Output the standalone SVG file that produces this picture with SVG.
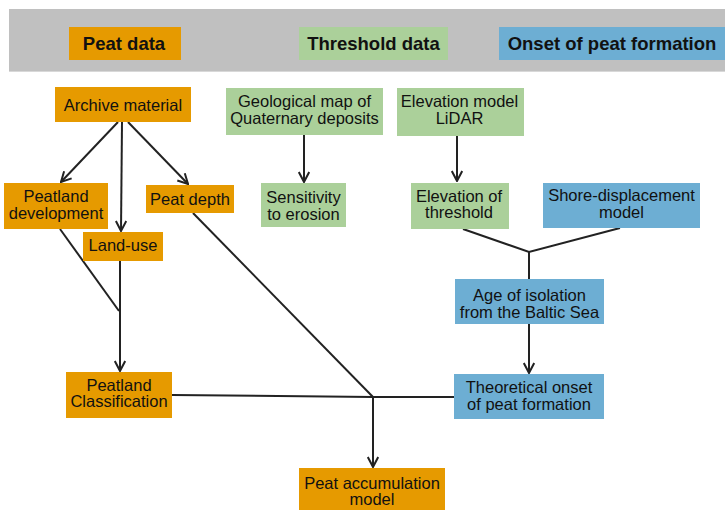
<svg xmlns="http://www.w3.org/2000/svg" width="725" height="510" viewBox="0 0 725 510">
  <defs>
    <marker id="arr" viewBox="0 0 12 12" markerWidth="12" markerHeight="12" refX="11" refY="6" orient="auto" markerUnits="userSpaceOnUse">
      <path d="M1,0.8 L11,6 L1,11.2" fill="none" stroke="#222" stroke-width="2" stroke-linejoin="miter"/>
    </marker>
  </defs>
  <style>
    .o { fill: #E69A00; }
    .g { fill: #ABD09A; }
    .b { fill: #6DAED3; }
    .t { font-family: "Liberation Sans", Arial, sans-serif; font-size: 16.5px; fill: #111; text-anchor: middle; }
    .h { font-family: "Liberation Sans", Arial, sans-serif; font-size: 18.5px; font-weight: bold; fill: #111; text-anchor: middle; }
    .c { fill: none; stroke: #222; stroke-width: 2; }
    .a { marker-end: url(#arr); }
  </style>
  <rect x="0" y="0" width="725" height="510" fill="#fff"/>

  <g id="header">
    <rect x="9" y="9" width="720" height="62" fill="#C0C0C0"/>
    <line x1="9" y1="71.5" x2="725" y2="71.5" stroke="#d8d8d8" stroke-width="1"/>
    <g id="peat-data">
      <rect class="o" x="69" y="27" width="112" height="33"/>
      <text class="h" x="124" y="50">Peat data</text>
    </g>
    <g id="threshold-data">
      <rect class="g" x="299" y="27" width="149" height="33"/>
      <text class="h" x="373.5" y="50">Threshold data</text>
    </g>
    <g id="onset-data">
      <rect class="b" x="499" y="27" width="230" height="33"/>
      <text class="h" x="612" y="50">Onset of peat formation</text>
    </g>
  </g>

  <g id="connectors">
    <path class="c a" d="M118,122 L61,182"/>
    <path class="c a" d="M122,122 L121,231"/>
    <path class="c a" d="M128,122 L188,184"/>
    <path class="c a" d="M304,135 L304,182"/>
    <path class="c a" d="M457,136 L457,181"/>
    <path class="c" d="M60,229 L119,311"/>
    <path class="c a" d="M120,261 L120,371"/>
    <path class="c" d="M463,229 L529,252 L620,228"/>
    <path class="c" d="M529,252 L529,279"/>
    <path class="c a" d="M529,324 L529,373"/>
    <path class="c" d="M172,395 L373,397 L454,397"/>
    <path class="c" d="M193,213 L373,397"/>
    <path class="c a" d="M373,397 L373,467"/>
  </g>

  <g id="archive-material">
    <rect class="o" x="55" y="87" width="136" height="35"/>
    <text class="t" x="123" y="110.5">Archive material</text>
  </g>
  <g id="geological-map">
    <rect class="g" x="226" y="88" width="157" height="47"/>
    <text class="t" x="304.5" y="107">Geological map of</text>
    <text class="t" x="304.5" y="123.5">Quaternary deposits</text>
  </g>
  <g id="elevation-model">
    <rect class="g" x="397" y="88" width="127" height="48"/>
    <text class="t" x="459.5" y="107">Elevation model</text>
    <text class="t" x="459.5" y="123.5">LiDAR</text>
  </g>
  <g id="peatland-development">
    <rect class="o" x="4" y="183" width="104" height="46"/>
    <text class="t" x="56" y="202">Peatland</text>
    <text class="t" x="56" y="218.5">development</text>
  </g>
  <g id="peat-depth">
    <rect class="o" x="146" y="185" width="88" height="28"/>
    <text class="t" x="190" y="204.5">Peat depth</text>
  </g>
  <g id="sensitivity">
    <rect class="g" x="261" y="183" width="85" height="44"/>
    <text class="t" x="303.5" y="203">Sensitivity</text>
    <text class="t" x="303.5" y="219.5">to erosion</text>
  </g>
  <g id="elevation-threshold">
    <rect class="g" x="411" y="183" width="98" height="46"/>
    <text class="t" x="459" y="201.5">Elevation of</text>
    <text class="t" x="459" y="218">threshold</text>
  </g>
  <g id="shore-displacement">
    <rect class="b" x="543" y="183" width="157" height="45"/>
    <text class="t" x="621.5" y="201">Shore-displacement</text>
    <text class="t" x="621.5" y="217.5">model</text>
  </g>
  <g id="land-use">
    <rect class="o" x="83" y="232" width="80" height="29"/>
    <text class="t" x="123" y="251">Land-use</text>
  </g>
  <g id="age-isolation">
    <rect class="b" x="455" y="279" width="149" height="45"/>
    <text class="t" x="529.5" y="301">Age of isolation</text>
    <text class="t" x="529.5" y="317.5">from the Baltic Sea</text>
  </g>
  <g id="peatland-classification">
    <rect class="o" x="66" y="372" width="106" height="46"/>
    <text class="t" x="119" y="390.5">Peatland</text>
    <text class="t" x="119" y="407">Classification</text>
  </g>
  <g id="theoretical-onset">
    <rect class="b" x="454" y="374" width="150" height="45"/>
    <text class="t" x="529" y="393">Theoretical onset</text>
    <text class="t" x="529" y="409.5">of peat formation</text>
  </g>
  <g id="peat-accumulation">
    <rect class="o" x="299" y="468" width="146" height="45"/>
    <text class="t" x="372" y="488.5">Peat accumulation</text>
    <text class="t" x="372" y="505">model</text>
  </g>
</svg>
